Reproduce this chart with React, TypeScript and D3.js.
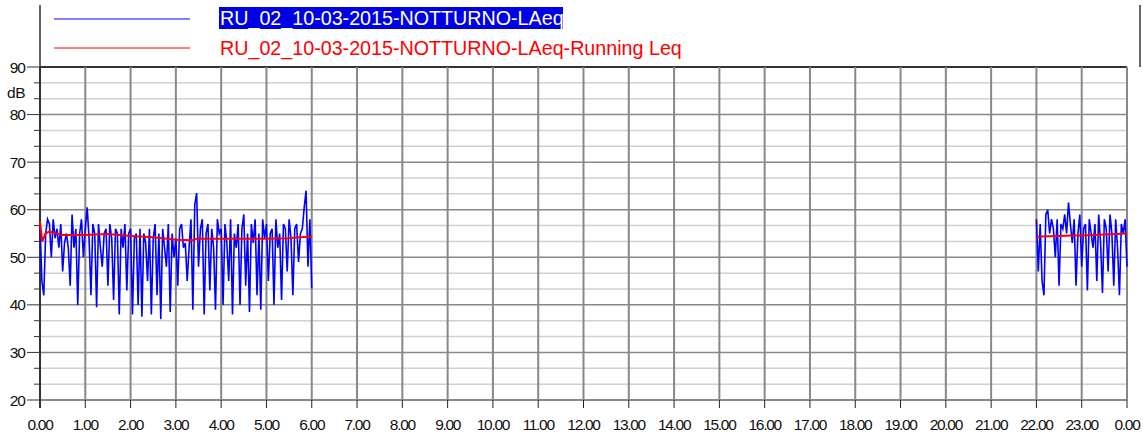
import * as d3 from 'd3';

// hourly tick labels along the bottom (0.00 .. 23.00, 0.00)
const hourTicks = d3.range(0, 25);
const hourLabels = hourTicks.map((h) => `${h % 24}.00`);
const dbMajor = [20, 30, 40, 50, 60, 70, 80, 90];

const stepHours = 2.5 / 60;

// LAeq, night period 00:00 - 06:00 (2.5 min samples)
const laeqNight1 = [
  57, 45, 42, 55, 58, 57, 50, 58, 54, 56, 52, 57, 47, 53, 55, 52, 44, 59, 52, 56, 40, 55, 58, 50,
  56, 60.5, 54, 42, 57, 55, 39.5, 57, 52, 48, 55, 56, 44, 57, 54, 41, 56, 55, 38, 56, 52, 57, 43, 55,
  56, 38, 54, 55, 40, 56, 37.5, 55, 53, 45, 56, 38, 54, 57, 42, 55, 37, 56, 52, 48, 57, 38.5, 55, 50,
  54, 44, 56, 57, 52, 53, 45, 52, 58, 39, 61, 63.5, 48, 56, 58, 38, 55, 57, 43, 56, 52, 39, 58, 55,
  56, 40, 57, 53, 45, 58, 38, 55, 52, 57, 40, 56, 59, 44, 55, 38.5, 57, 53, 58, 42, 55, 39, 58, 54,
  57, 45, 55, 56, 40, 58, 52, 55, 41, 57, 56, 47, 58, 54, 42, 56, 57, 49, 55, 56, 60.5, 64, 48, 58, 43.5,
];
const start1 = 0;

// LAeq, 22:00 - 24:00
const laeqNight2 = [
  58, 47, 57, 45, 42, 59, 60, 55, 58, 56, 50, 58, 44, 57, 56, 59, 55, 61.5, 57, 53, 58, 44, 55, 59,
  48, 56, 57, 43, 58, 55, 52, 57, 45, 59, 53, 42.5, 58, 56, 47, 59, 55, 44, 58, 52, 42, 57, 55, 58, 48,
];
const start2 = 22;

// Running Leq
const runTimes1 = [0, 0.05, 0.12, 0.2, 0.35, 0.5, 1.0, 1.5, 2.0, 2.5, 3.0, 3.4, 3.45, 4.0, 4.5, 5.0, 5.5, 5.7, 6.0];
const runValues1 = [57.5, 53.3, 55.0, 55.4, 55.0, 54.7, 54.7, 54.9, 54.5, 54.2, 53.7, 53.6, 53.9, 53.9, 53.9, 53.9, 54.0, 54.2, 54.3];
const runTimes2 = [22, 22.25, 22.5, 22.75, 23, 23.25, 23.5, 23.75, 24];
const runValues2 = [54.3, 54.4, 54.5, 54.6, 54.6, 54.7, 54.8, 54.9, 55.0];

const seriesName = 'RU_02_10-03-2015-NOTTURNO-LAeq';
const runName = 'RU_02_10-03-2015-NOTTURNO-LAeq-Running Leq';

export default function App() {
  const width = 1143;
  const height = 436;
  const left = 40;
  const right = 1127;
  const top = 67;
  const bottom = 400;

  const x = d3.scaleLinear().domain([0, 24]).range([left, right]);
  const y = d3.scaleLinear().domain([20, 90]).range([bottom, top]);

  const minor = d3.range(0, 21).map((i) => 20 + (i * 10) / 3).filter((v, i) => i % 3 !== 0);

  const line = d3
    .line<[number, number]>()
    .x((d) => x(d[0]))
    .y((d) => y(d[1]));

  const blue1 = line(laeqNight1.map((v, i) => [start1 + i * stepHours, v]));
  const blue2 = line(laeqNight2.map((v, i) => [start2 + i * stepHours, v]));
  const red1 = line(runTimes1.map((t, i) => [t, runValues1[i]]));
  const red2 = line(runTimes2.map((t, i) => [t, runValues2[i]]));

  const font = '"Liberation Sans", Arial, sans-serif';

  return (
    <svg
      width={width}
      height={height}
      style={{ position: 'absolute', left: 0, top: 0, background: '#fff' }}
      fontFamily={font}
    >
      {/* legend */}
      <line x1={left} x2={left} y1={5} y2={top} stroke="#333" strokeWidth={1.5} />
      <line x1={1140} x2={1140} y1={5} y2={top} stroke="#333" strokeWidth={1.5} />
      <line x1={54} x2={190} y1={19} y2={19} stroke="#0000ff" strokeWidth={1} />
      <line x1={54} x2={190} y1={48} y2={48} stroke="#ff0000" strokeWidth={1} />
      <rect x={219} y={7} width={344} height={22} fill="#0000e6" />
      <text x={220} y={25} fontSize={19.7} fill="#fff">
        {seriesName}
      </text>
      <text x={220} y={55} fontSize={19.7} fill="#ff0000">
        {runName}
      </text>

      {/* minor horizontal grid */}
      {minor.map((v) => (
        <g key={'m' + v}>
          <line x1={left} x2={right} y1={y(v)} y2={y(v)} stroke="#d0d0d0" strokeWidth={1.5} />
          <line x1={34} x2={left} y1={y(v)} y2={y(v)} stroke="#333" strokeWidth={1} />
        </g>
      ))}
      {/* major horizontal grid */}
      {dbMajor.map((v) => (
        <g key={'M' + v}>
          <line
            x1={left}
            x2={right}
            y1={y(v)}
            y2={y(v)}
            stroke={v === 90 ? '#333' : '#888'}
            strokeWidth={v === 90 || v === 20 ? 2 : 1.5}
          />
          <line x1={27} x2={left} y1={y(v)} y2={y(v)} stroke="#333" strokeWidth={1} />
          <text x={25} y={y(v) + 5.5} fontSize={15.5} textAnchor="end" fill="#111" letterSpacing={-1}>
            {v}
          </text>
        </g>
      ))}
      <text x={16} y={98} fontSize={15.5} textAnchor="middle" fill="#111" letterSpacing={-0.5}>
        dB
      </text>

      {/* vertical grid */}
      {hourTicks.map((h, i) => (
        <g key={'h' + h}>
          {i > 0 && (
            <line x1={x(h)} x2={x(h)} y1={top} y2={bottom} stroke="#888" strokeWidth={2} />
          )}
          <line x1={x(h)} x2={x(h)} y1={bottom} y2={408} stroke="#222" strokeWidth={1} />
          <text x={x(h)} y={430} fontSize={15.5} textAnchor="middle" fill="#111" letterSpacing={-1.3}>
            {hourLabels[i]}
          </text>
        </g>
      ))}
      <line x1={left} x2={left} y1={top} y2={408} stroke="#333" strokeWidth={2} />

      {/* data */}
      <path d={blue1 ?? ''} fill="none" stroke="#0000ff" strokeWidth={1.6} />
      <path d={blue2 ?? ''} fill="none" stroke="#0000ff" strokeWidth={1.6} />
      <path d={red1 ?? ''} fill="none" stroke="#ff0000" strokeWidth={2} />
      <path d={red2 ?? ''} fill="none" stroke="#ff0000" strokeWidth={2} />
    </svg>
  );
}
